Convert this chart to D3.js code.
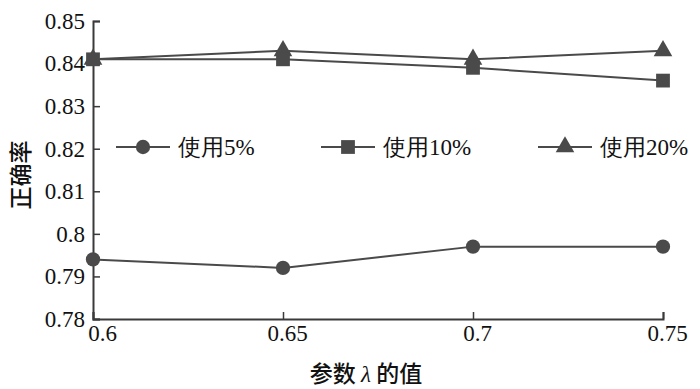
<!DOCTYPE html>
<html>
<head>
<meta charset="utf-8">
<script src="https://cdn.jsdelivr.net/npm/d3@7"></script>
</head>
<body style="margin:0">
<script>
var lambdas = [0.6, 0.65, 0.7, 0.75];
var use5 = [0.794, 0.792, 0.797, 0.797];
var use10 = [0.841, 0.841, 0.839, 0.836];
var use20 = [0.841, 0.843, 0.841, 0.843];
var seriesNames = ["使用5%", "使用10%", "使用20%"];
var yTicks = [0.78, 0.79, 0.8, 0.81, 0.82, 0.83, 0.84, 0.85];

var W = 700, H = 389;
var margin = {top: 21, right: 37, bottom: 70, left: 93};

var svg = d3.select("body").append("svg")
    .attr("width", W).attr("height", H)
    .style("font-family", "'Liberation Serif'");

var x = d3.scaleLinear().domain([0.6, 0.75]).range([margin.left, W - margin.right]);
var y = d3.scaleLinear().domain([0.78, 0.85]).range([H - margin.bottom, margin.top]);

var axisColor = "#3a3a3a";
var lineColor = "#4a4a4a";

function fmt(d) { return String(+d.toFixed(2)); }

// y axis, ticks pointing inward
var yAxis = svg.append("g")
    .attr("transform", "translate(" + margin.left + ",0)")
    .call(d3.axisLeft(y).tickValues(yTicks).tickSize(-7).tickPadding(8).tickFormat(fmt));
yAxis.attr("font-family", null).attr("font-size", null);
yAxis.select(".domain").attr("stroke", axisColor).attr("stroke-width", 2);
yAxis.selectAll(".tick line").attr("stroke", axisColor).attr("stroke-width", 1.5);
yAxis.selectAll("text").style("font-family", "'Liberation Serif'").attr("font-size", 23).attr("fill", "#111");

var xAxis = svg.append("g")
    .attr("transform", "translate(0," + (H - margin.bottom) + ")")
    .call(d3.axisBottom(x).tickValues(lambdas).tickSize(-7).tickPadding(6).tickFormat(fmt));
xAxis.attr("font-family", null).attr("font-size", null);
xAxis.select(".domain").attr("stroke", axisColor).attr("stroke-width", 2);
xAxis.selectAll(".tick line").attr("stroke", axisColor).attr("stroke-width", 1.5);
xAxis.selectAll("text").style("font-family", "'Liberation Serif'").attr("font-size", 23).attr("fill", "#111")
    .attr("dx", function(d, i) { return i == 0 ? 9 : 4; });

// axis titles
svg.append("text")
    .attr("transform", "translate(29,175) rotate(-90)")
    .attr("text-anchor", "middle")
    .style("font-family", "'Noto Sans CJK SC'").attr("font-size", 23).style("font-weight", 500)
    .attr("fill", "#111")
    .text("正确率");

var xt = svg.append("text")
    .attr("x", 366).attr("y", 382)
    .attr("text-anchor", "middle")
    .style("font-family", "'Noto Sans CJK SC'").attr("font-size", 23).style("font-weight", 500)
    .attr("fill", "#111");
xt.append("tspan").text("参数 ");
xt.append("tspan").style("font-family", "'Liberation Serif'").style("font-style", "italic").style("font-weight", "normal").text("λ");
xt.append("tspan").text(" 的值");

var series = [use5, use10, use20];
var shapes = [d3.symbolCircle, d3.symbolSquare, d3.symbolTriangle];
var sizes = [160, 190, 150];

var line = d3.line()
    .x(function(d, i) { return x(lambdas[i]); })
    .y(function(d) { return y(d); });

// draw 20% first so 10% squares sit on top
[2, 1, 0].forEach(function(k) {
  svg.append("path")
     .datum(series[k])
     .attr("d", line)
     .attr("fill", "none")
     .attr("stroke", lineColor)
     .attr("stroke-width", 2);
  svg.selectAll(".m" + k)
     .data(series[k])
     .enter()
     .append("path")
     .attr("class", "m" + k)
     .attr("d", d3.symbol().type(shapes[k]).size(sizes[k]))
     .attr("transform", function(d, i) { return "translate(" + x(lambdas[i]) + "," + y(d) + ")"; })
     .attr("fill", lineColor);
});

// legend
var legendX = [116, 321, 538];
var legendY = 147;
svg.selectAll(".leg")
   .data(seriesNames)
   .enter()
   .append("text")
   .attr("class", "leg")
   .attr("x", function(d, i) { return legendX[i] + 62; })
   .attr("y", legendY + 8)
   .attr("font-size", 23)
   .attr("fill", "#111")
   .style("font-family", "'Liberation Serif'")
   .text(function(d) { return d; });

seriesNames.forEach(function(name, k) {
  svg.append("line").attr("x1", legendX[k]).attr("x2", legendX[k] + 54)
   .attr("y1", legendY).attr("y2", legendY)
   .attr("stroke", lineColor).attr("stroke-width", 2);
  svg.append("path").attr("d", d3.symbol().type(shapes[k]).size(sizes[k]))
   .attr("transform", "translate(" + (legendX[k] + 27) + "," + legendY + ")").attr("fill", lineColor);
});
</script>
</body>
</html>
